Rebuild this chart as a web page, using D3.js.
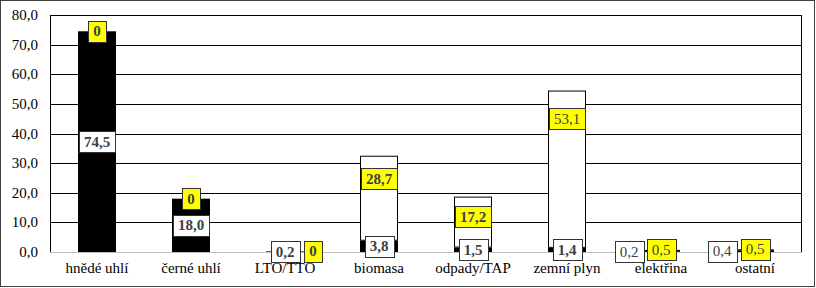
<!DOCTYPE html>
<html>
<head>
<meta charset="utf-8">
<script src="https://cdn.jsdelivr.net/npm/d3@7"></script>
<style>
  body { margin: 0; background: #fff; }
</style>
</head>
<body>
<div id="chart"></div>
<script>
// data
const categories = ["hnědé uhlí", "černé uhlí", "LTO/TTO", "biomasa", "odpady/TAP", "zemní plyn", "elektřina", "ostatní"];
const blackValues = [74.5, 18.0, 0.2, 3.8, 1.5, 1.4, 0.2, 0.4];
const whiteValues = [0, 0, 0, 28.7, 17.2, 53.1, 0.5, 0.5];
const yTicks = [0, 10, 20, 30, 40, 50, 60, 70, 80];

// label placement tweaks (pixels), as in the original
const blackLabelShift = [0, 0, 0, 0, 0, 0, -32, -33];
const whiteLabelShift = [0, 0, 28, 0, 0, 0, 0, 0];
const whiteLabelDrop = [0, 0, 0, 23, 20, 28, 0, 0];
const lightBlack = ["elektřina", "ostatní"];
const lightWhite = ["zemní plyn", "elektřina", "ostatní"];

const FONT = "'Liberation Serif', 'Times New Roman', 'DejaVu Serif', serif";

const width = 816, height = 288;
const margin = {top: 15, right: 14, bottom: 36, left: 50};
const plotW = width - margin.left - margin.right;
const plotH = height - margin.top - margin.bottom;

const svg = d3.select("#chart").append("svg")
    .attr("width", width)
    .attr("height", height)
    .attr("font-family", FONT);

// outer frame
svg.append("rect")
    .attr("x", 0.5).attr("y", 0.5)
    .attr("width", 814).attr("height", 286)
    .attr("fill", "none")
    .attr("stroke", "#404040");

const g = svg.append("g")
    .attr("transform", `translate(${margin.left}, ${margin.top})`);

let x = d3.scaleBand()
    .domain(categories)
    .range([0, plotW])
    .paddingInner(0.596)
    .paddingOuter(0.298);

let y = d3.scaleLinear()
    .domain([0, 80])
    .range([plotH, 0]);

const fmt = v => d3.format(".1f")(v).replace(".", ",");

// gridlines
g.selectAll("line.grid")
    .data(yTicks.filter(t => t > 0))
    .enter().append("line")
    .attr("x1", 0).attr("x2", plotW)
    .attr("y1", d => Math.round(y(d)) + 0.5)
    .attr("y2", d => Math.round(y(d)) + 0.5)
    .attr("stroke", "#000");

// left and right frame of the plot
g.append("line").attr("x1", 0.5).attr("x2", 0.5).attr("y1", 0).attr("y2", plotH).attr("stroke", "#000");
g.append("line").attr("x1", plotW - 0.5).attr("x2", plotW - 0.5).attr("y1", 0).attr("y2", plotH).attr("stroke", "#000");

// y axis labels
g.selectAll("text.ytick")
    .data(yTicks)
    .enter().append("text")
    .attr("x", -12)
    .attr("y", d => y(d) + 5)
    .attr("text-anchor", "end")
    .attr("font-family", FONT)
    .style("font-size", "15px")
    .attr("fill", "#000")
    .text(d => fmt(d));

// bars
const rows = categories.map((c, i) => ({c, i, b: blackValues[i], w: whiteValues[i]}));

g.selectAll("rect.black")
    .data(rows)
    .enter().append("rect")
    .attr("x", d => x(d.c))
    .attr("y", d => y(d.b))
    .attr("width", x.bandwidth())
    .attr("height", d => y(0) - y(d.b))
    .attr("fill", "#000");

g.selectAll("rect.white")
    .data(rows.filter(d => d.w > 0))
    .enter().append("rect")
    .attr("x", d => x(d.c) + 0.5)
    .attr("y", d => y(d.b + d.w) + 0.5)
    .attr("width", x.bandwidth() - 1)
    .attr("height", d => Math.max(0, y(d.b) - y(d.b + d.w) - 1))
    .attr("fill", "#fff")
    .attr("stroke", "#000");

// x axis line (light grey)
g.append("line")
    .attr("x1", 0).attr("x2", plotW)
    .attr("y1", Math.round(y(0)) + 0.5).attr("y2", Math.round(y(0)) + 0.5)
    .attr("stroke", "#bfbfbf");

// category labels
g.selectAll("text.cat")
    .data(categories)
    .enter().append("text")
    .attr("x", d => x(d) + x.bandwidth() / 2)
    .attr("y", plotH + 21)
    .attr("text-anchor", "middle")
    .attr("font-family", FONT)
    .style("font-size", "15px")
    .attr("fill", "#000")
    .text(d => d);

// data labels
function addLabel(cx, cy, txt, fill, bold) {
    let lg = g.append("g");
    let rect = lg.append("rect");
    let t = lg.append("text")
        .attr("x", cx)
        .attr("y", cy + 5)
        .attr("text-anchor", "middle")
        .attr("font-family", FONT)
        .style("font-size", "15px")
        .style("font-weight", bold ? "bold" : "normal")
        .attr("fill", "#404040")
        .text(txt);
    let w = t.node().getComputedTextLength() + 10;
    let h = 21;
    rect.attr("x", Math.round(cx - w / 2) + 0.5)
        .attr("y", Math.round(cy - h / 2) + 0.5)
        .attr("width", Math.round(w))
        .attr("height", h)
        .attr("fill", fill)
        .attr("stroke", "#333");
}

rows.forEach(d => {
    let cx = x(d.c) + x.bandwidth() / 2;
    addLabel(cx + blackLabelShift[d.i], y(d.b / 2), fmt(d.b), "#fff", !lightBlack.includes(d.c));
});
rows.forEach(d => {
    let cx = x(d.c) + x.bandwidth() / 2;
    let txt = d.w === 0 ? "0" : fmt(d.w);
    addLabel(cx + whiteLabelShift[d.i], y(d.b + d.w) + whiteLabelDrop[d.i], txt, "#ffff00", !lightWhite.includes(d.c));
});
</script>
</body>
</html>
